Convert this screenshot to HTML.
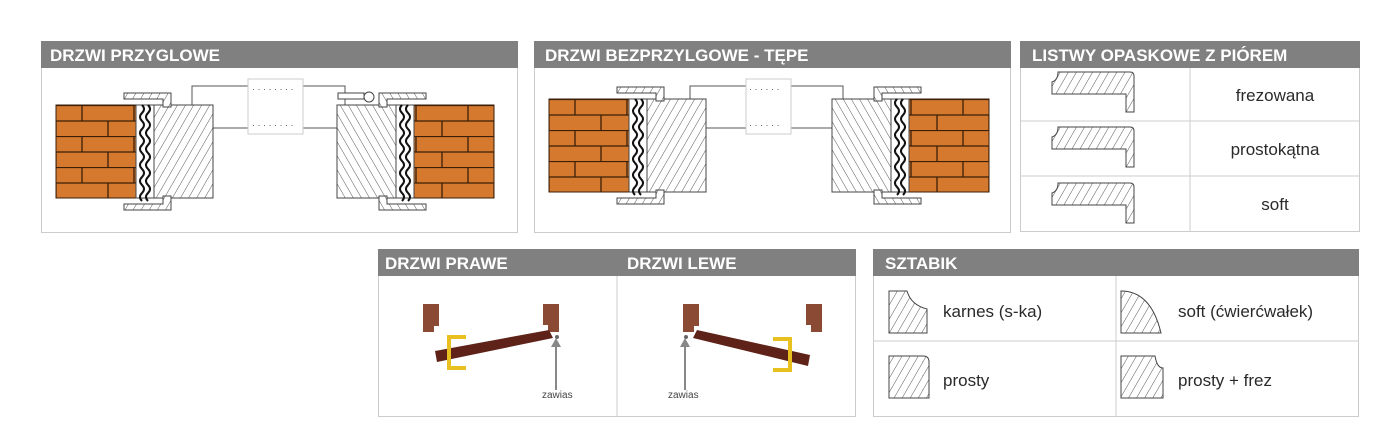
<!DOCTYPE html>
<html><head><meta charset="utf-8"><style>
body{margin:0;background:#fff;width:1400px;height:441px;overflow:hidden}
svg{display:block}
text{font-family:"Liberation Sans","DejaVu Sans",sans-serif}
.h{fill:#fff;font-weight:bold;font-size:17px}
.t{fill:#2a2a2a;font-size:17px}
</style></head><body>
<svg width="1400" height="441" viewBox="0 0 1400 441">
<defs>
<pattern id="hat" width="7" height="7" patternUnits="userSpaceOnUse" patternTransform="rotate(30)">
<rect width="7" height="7" fill="#fff"/><line x1="0" y1="0" x2="0" y2="7" stroke="#444" stroke-width="0.9"/></pattern>
<pattern id="brick" width="52" height="31" patternUnits="userSpaceOnUse">
<rect width="52" height="31" fill="#d5792f"/>
<path d="M0 .5H52M0 16H52M26 0V16M0 16V31M52 16V31" stroke="#3b1f08" stroke-width="1.3" fill="none"/></pattern>
<g id="wave"><path d="M0 0q4 4 0 8t0 8t0 8t0 8t0 8t0 8t0 8t0 8t0 8t0 8t0 8t0 8" stroke="#111" stroke-width="2" fill="none"/></g>
<g id="jamb">
<rect x="0" y="0" width="80" height="93" fill="url(#brick)" stroke="#3b1f08"/>
<rect x="80" y="0" width="18" height="93" fill="#fff" stroke="#444"/>
<use href="#wave" x="86" y="0"/><use href="#wave" x="92" y="0"/>
<rect x="98" y="0" width="59" height="93" fill="url(#hat)" stroke="#444"/>
<path d="M68 -12h47v14h-8v-8h-39z" fill="url(#hat)" stroke="#444"/>
<path d="M68 105h47v-14h-8v8h-39z" fill="url(#hat)" stroke="#444"/>
</g>
<g id="listwa"><path d="M0 10 q6 -2 6 -10 h72 q4 0 4 4 v36 h-8 v-18 h-74z" fill="url(#hat)" stroke="#444"/></g>
<g id="szt"><path d="M0 0h18q4 14 20 18v24h-38z" fill="url(#hat)" stroke="#444"/></g>
</defs>
<!-- Panel 1 -->
<rect x="41.5" y="41.5" width="476" height="191" fill="#fff" stroke="#ccc"/>
<rect x="41" y="41" width="477" height="27" fill="#808080"/>
<text x="50" y="61" class="h">DRZWI PRZYGLOWE</text>
<rect x="192" y="86" width="153" height="42" fill="#fff" stroke="#555"/>
<rect x="248" y="79" width="55" height="55" fill="#fff" stroke="#ccc"/>
<text x="252" y="92" font-size="9" fill="#555">· · · · · · · ·</text>
<text x="252" y="128" font-size="9" fill="#555">· · · · · · · ·</text>
<use href="#jamb" x="56" y="105"/>
<g transform="translate(494 105) scale(-1 1)"><use href="#jamb"/></g>
<circle cx="369" cy="97" r="5" fill="#fff" stroke="#444"/>
<rect x="338" y="93" width="26" height="6" fill="#fff" stroke="#444"/>
<!-- Panel 2 -->
<rect x="534.5" y="41.5" width="476" height="191" fill="#fff" stroke="#ccc"/>
<rect x="534" y="41" width="477" height="27" fill="#808080"/>
<text x="545" y="61" class="h">DRZWI BEZPRZYLGOWE - TĘPE</text>
<rect x="690" y="86" width="153" height="42" fill="#fff" stroke="#555"/>
<rect x="746" y="79" width="45" height="55" fill="#fff" stroke="#ccc"/>
<text x="749" y="92" font-size="9" fill="#555">· · · · · ·</text>
<text x="749" y="128" font-size="9" fill="#555">· · · · · ·</text>
<use href="#jamb" x="549" y="99"/>
<g transform="translate(989 99) scale(-1 1)"><use href="#jamb"/></g>
<!-- Panel 3 -->
<rect x="1020.5" y="41.5" width="339" height="190" fill="#fff" stroke="#ccc"/>
<rect x="1020" y="41" width="340" height="27" fill="#808080"/>
<text x="1032" y="61" class="h">LISTWY OPASKOWE Z PIÓREM</text>
<path d="M1190 68V232M1020 121H1360M1020 176H1360" stroke="#ccc"/>
<use href="#listwa" x="1052" y="72"/>
<use href="#listwa" x="1052" y="127"/>
<use href="#listwa" x="1052" y="183"/>
<text x="1275" y="101" class="t" text-anchor="middle">frezowana</text>
<text x="1275" y="155" class="t" text-anchor="middle">prostokątna</text>
<text x="1275" y="210" class="t" text-anchor="middle">soft</text>
<!-- Panel 4 -->
<rect x="378.5" y="249.5" width="477" height="167" fill="#fff" stroke="#ccc"/>
<rect x="378" y="249" width="478" height="27" fill="#808080"/>
<text x="385" y="269" class="h">DRZWI PRAWE</text>
<text x="627" y="269" class="h">DRZWI LEWE</text>
<line x1="617" y1="276" x2="617" y2="417" stroke="#ccc"/>
<path d="M423 304h16v22h-5v6h-11z" fill="#8a4a33"/>
<path d="M543 304h16v28h-11v-7h-5z" fill="#8a4a33"/>
<polygon points="435,351 549,330 553,338 437,362" fill="#5e2218"/>
<path d="M466 337h-17v31h17" stroke="#e8c020" stroke-width="4" fill="none"/>
<circle cx="557" cy="337" r="2" fill="#666"/>
<path d="M556 390V345" stroke="#888" stroke-width="2"/><polygon points="551,347 556,338 561,347" fill="#888"/>
<text x="542" y="398" font-size="10" fill="#444">zawias</text>
<path d="M683 304h16v22h-5v6h-11z" fill="#8a4a33"/>
<path d="M806 304h16v28h-11v-7h-5z" fill="#8a4a33"/>
<polygon points="697,330 810,355 808,366 693,338" fill="#5e2218"/>
<path d="M773 339h17v31h-17" stroke="#e8c020" stroke-width="4" fill="none"/>
<circle cx="686" cy="337" r="2" fill="#666"/>
<path d="M685 390V345" stroke="#888" stroke-width="2"/><polygon points="680,347 685,338 690,347" fill="#888"/>
<text x="668" y="398" font-size="10" fill="#444">zawias</text>
<!-- Panel 5 -->
<rect x="873.5" y="249.5" width="485" height="167" fill="#fff" stroke="#ccc"/>
<rect x="873" y="249" width="486" height="27" fill="#808080"/>
<text x="885" y="269" class="h">SZTABIK</text>
<path d="M1116 276V417M873 341H1359" stroke="#ccc"/>
<use href="#szt" x="889" y="291"/>
<path d="M1121 291q30 0 40 42h-40z" fill="url(#hat)" stroke="#444"/>
<path d="M889 356h34q6 0 6 6v36h-40z" fill="url(#hat)" stroke="#444"/>
<path d="M1121 356h34q2 12 8 12v30h-42z" fill="url(#hat)" stroke="#444"/>
<text x="943" y="317" class="t">karnes (s-ka)</text>
<text x="1178" y="317" class="t">soft (ćwierćwałek)</text>
<text x="943" y="386" class="t">prosty</text>
<text x="1178" y="386" class="t">prosty + frez</text>
</svg>
</body></html>
